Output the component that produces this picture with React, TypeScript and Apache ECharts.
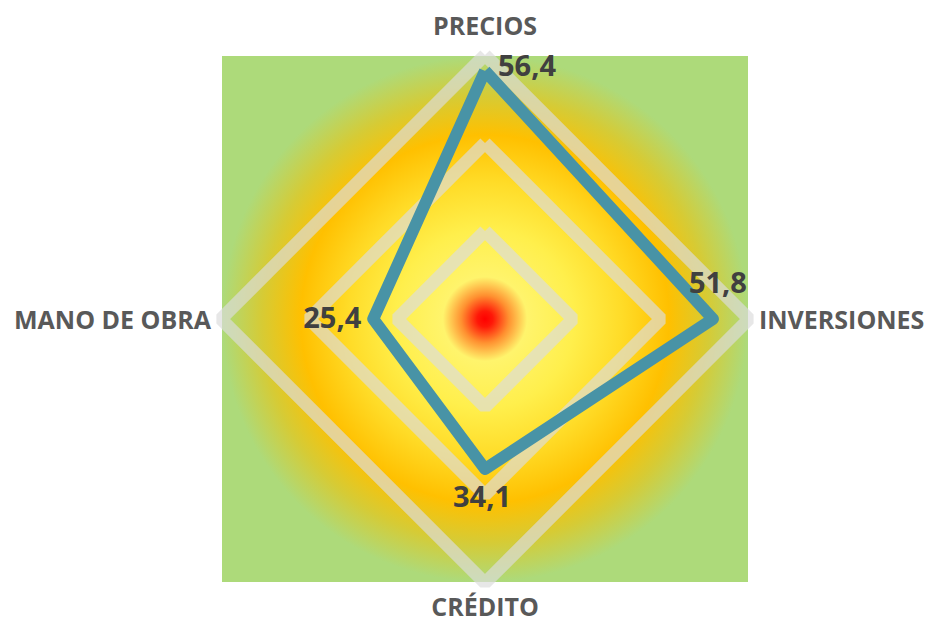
import React, { useEffect, useRef } from "react";
import * as echarts from "echarts";

// ---- data ----
const indicatorNames = ["PRECIOS", "MANO DE OBRA", "CRÉDITO", "INVERSIONES"];
const seriesValues = [56.4, 25.4, 34.1, 51.8];
const axisMax = 60;
const splitCount = 3;

// ---- layout / style ----
const CENTER_X = 485;
const CENTER_Y = 319;
const RADIUS = 264;
const labelOffsets: number[][] = [
  [42, -6],
  [-41, -3],
  [-3, 26],
  [5, -38],
];

const fmt = (v: number) => String(v).replace(".", ",");

export default function App() {
  const ref = useRef<HTMLDivElement>(null);
  useEffect(() => {
    if (!ref.current) return;
    const chart = echarts.init(ref.current, undefined, { renderer: "svg" });
    const bgHalf = 263;
    const nameFont = {
      color: "#595959",
      fontFamily: "Open Sans",
      fontWeight: "bold",
      fontSize: 25,
    };
    const labelSeries = indicatorNames.map((_, k) => ({
      type: "radar",
      z: 5,
      symbol: "circle",
      symbolSize: 1,
      itemStyle: { color: "transparent" },
      lineStyle: { width: 0, opacity: 0 },
      label: {
        show: true,
        position: "inside",
        offset: labelOffsets[k],
        color: "#404040",
        fontFamily: "Open Sans",
        fontWeight: "bold",
        fontSize: 29,
        formatter: (p: any) => {
          if (p.dimensionIndex !== k) return "";
          const v = Array.isArray(p.value) ? p.value[k] : p.value;
          return fmt(v);
        },
      },
      data: [{ value: seriesValues }],
    }));
    chart.setOption({
      animation: false,
      graphic: [
        {
          type: "rect",
          z: -10,
          silent: true,
          shape: {
            x: CENTER_X - bgHalf,
            y: CENTER_Y - bgHalf,
            width: bgHalf * 2,
            height: bgHalf * 2,
          },
          style: {
            fill: new echarts.graphic.RadialGradient(0.5, 0.5, 0.5, [
              { offset: 0, color: "#FF0000" },
              { offset: 0.03, color: "#FF1808" },
              { offset: 0.09, color: "#FF9030" },
              { offset: 0.16, color: "#FFF46C" },
              { offset: 0.34, color: "#FFEF4C" },
              { offset: 0.52, color: "#FFDC28" },
              { offset: 0.7, color: "#FFC000" },
              { offset: 0.85, color: "#D6CB35" },
              { offset: 1, color: "#ADDA7A" },
            ]),
          },
        },
      ],
      radar: {
        center: [CENTER_X, CENTER_Y],
        radius: RADIUS,
        startAngle: 90,
        shape: "polygon",
        splitNumber: splitCount,
        indicator: indicatorNames.map((n) => ({ name: n, max: axisMax, min: 0 })),
        nameGap: 10,
        axisName: {
          ...nameFont,
          formatter: (name: string) =>
            name === indicatorNames[0] ? `{up|${name}}` : name,
          rich: {
            up: { ...nameFont, padding: [0, 0, 8, 0] },
          },
        },
        axisLine: { show: false },
        axisTick: { show: false },
        axisLabel: { show: false },
        splitArea: { show: false },
        splitLine: {
          lineStyle: {
            color: "rgba(220,220,220,0.68)",
            width: 13,
            join: "bevel",
          },
        },
      },
      series: [
        {
          type: "radar",
          z: 3,
          symbol: "none",
          lineStyle: {
            width: 12,
            color: "#4893A6",
            join: "round",
          },
          data: [{ value: seriesValues }],
        },
        ...labelSeries,
      ],
    });
    return () => chart.dispose();
  }, []);
  return (
    <div
      ref={ref}
      style={{ position: "absolute", left: 0, top: 0, width: 925, height: 621 }}
    />
  );
}
